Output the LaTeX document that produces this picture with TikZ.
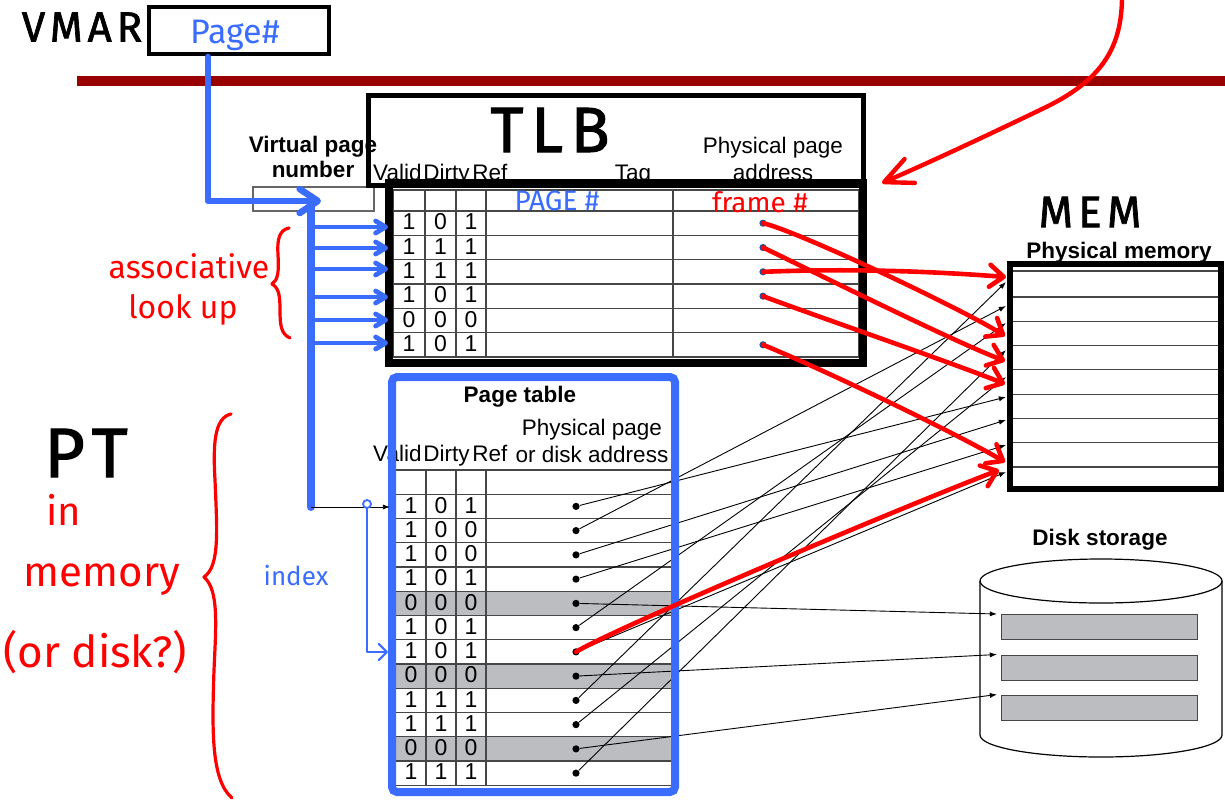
\documentclass[tikz,border=0pt]{standalone}
\usepackage{fontspec}
\setmainfont{Liberation Sans}
\newfontfamily\handfont{Fira Sans}
\newfontfamily\handcaps[LetterSpace=12,FakeBold=1.6]{Fira Sans}
\usetikzlibrary{arrows.meta,calc}

\definecolor{inkblue}{RGB}{58,108,255}
\definecolor{inkred}{RGB}{255,0,0}
\definecolor{barred}{RGB}{153,0,0}
\definecolor{cellgray}{RGB}{188,189,192}
\definecolor{dotblue}{RGB}{30,80,160}
\definecolor{gridgray}{RGB}{70,70,70}

\tikzset{
  lbl/.style={inner sep=0pt, anchor=base, font=\fontsize{11.25}{13}\selectfont},
  lblb/.style={inner sep=0pt, anchor=base, font=\fontsize{11.25}{13}\selectfont\bfseries},
  digit/.style={inner sep=0pt, anchor=base, font=\fontsize{11.5}{13}\selectfont},
  gridline/.style={draw=gridgray, line width=0.55pt},
  link/.style={draw=black, line width=0.45pt, -{Latex[length=3.6pt,width=2.6pt]}},
  redlink/.style={draw=inkred, line width=2.3pt, line cap=round, line join=round,
    -{Straight Barb[length=7pt,width=11pt,round]}},
  bluebranch/.style={draw=inkblue, line width=2.4pt, line cap=round,
    -{Straight Barb[length=5pt,width=6pt,round]}},
  handblack/.style={inner sep=0pt, text=black, font=\handcaps\fontsize{#1}{#1}\selectfont},
  handblue/.style={inner sep=0pt, text=inkblue, font=\handfont\fontsize{#1}{#1}\selectfont},
  handred/.style={inner sep=0pt, text=inkred, font=\handfont\fontsize{#1}{#1}\selectfont},
  bracestroke/.style={draw=inkred, line width=1.6pt, line cap=round, line join=round},
  pdot/.style={circle, fill=black, inner sep=0pt, minimum size=3.6pt},
  tdot/.style={circle, fill=dotblue, inner sep=0pt, minimum size=3.6pt},
  slot/.style={draw=gridgray, fill=cellgray, line width=0.6pt, inner sep=0pt,
    minimum width=98pt, minimum height=12.5pt, anchor=north west},
}

\begin{document}
\begin{tikzpicture}[x=0.5pt, y=-0.5pt]
\useasboundingbox (0,0) rectangle (1225,803);

% slide title rule
\fill[barred] (77,76) rectangle (1225,86);

% ---- virtual memory address register ----
\node[handblack=21] (vmar) at (82,27) {VMAR};
\node[draw, line width=2.2pt, minimum width=90pt, minimum height=23.5pt, inner sep=0pt] (vmarbox) at (239,30.5) {};
\node[handblue=17] (pagehash) at (235,35) {Page\#};

% ---- virtual page number ----
\node[lblb] (vpnA) at (313,152) {Virtual page};
\node[lblb] (vpnB) at (313,177) {number};
\node[draw=gray!80!black, line width=0.6pt, minimum width=60.5pt, minimum height=12pt, inner sep=0pt] (vpn) at (313.5,199) {};

% ---- TLB ----
\node[lbl] (tphA) at (773,153) {Physical page};
\node[lbl] (tphB) at (773,180) {address};
\node[lbl] (ttag) at (633,180) {Tag};
\node[lbl, anchor=base east] (tvalid) at (422,180) {Valid};
\node[lbl, anchor=base west] (tdirty) at (423,180) {Dirty};
\node[lbl, anchor=base west] (tref) at (472,180) {Ref};

\foreach \y in {190,211,235.33,259.67,284,308.33,332.67,357}
  \draw[gridline] (393,\y) -- (859,\y);
\foreach \x in {393,425,456,486,673,859}
  \draw[gridline] (\x,190) -- (\x,357);
\foreach \r/\a/\b/\c in {1/1/0/1,2/1/1/1,3/1/1/1,4/1/0/1,5/0/0/0,6/1/0/1}{
  \pgfmathsetmacro\yb{211+24.33*\r-5.5}
  \node[digit] (t\r-v) at (409,\yb) {\a};
  \node[digit] (t\r-d) at (440.5,\yb) {\b};
  \node[digit] (t\r-r) at (471,\yb) {\c};
}
\node[draw, line width=2.5pt, minimum width=247.5pt, minimum height=45pt, inner sep=0pt] (tlbhead) at (615.5,140) {};
\node[draw, line width=4.3pt, minimum width=237pt, minimum height=90pt, inner sep=0pt] (tlb) at (626,273) {};
\node[handblack=32] (tlbtitle) at (550,130) {TLB};
\node[handblue=14] (tagnote) at (557,201) {PAGE \#};
\node[handred=14] (framenote) at (760,202) {frame \#};
\foreach \r in {1,2,3,4,6}
  \node[tdot] (td\r) at (763,{211+24.33*\r-12.17}) {};

% ---- page table ----
\foreach \r in {5,8,11}
  \fill[cellgray] (396,{470+24.25*\r}) rectangle (672,{470+24.25*(\r+1)});
\foreach \k in {0,...,13}
  \draw[gridline] (396,{470+24.25*\k}) -- (672,{470+24.25*\k});
\foreach \x in {426,456,486}
  \draw[gridline] (\x,470) -- (\x,785.25);
\foreach \r/\a/\b/\c in {1/1/0/1,2/1/0/0,3/1/0/0,4/1/0/1,5/0/0/0,6/1/0/1,7/1/0/1,8/0/0/0,9/1/1/1,10/1/1/1,11/0/0/0,12/1/1/1}{
  \pgfmathsetmacro\yb{470+24.25*(\r+1)-5.5}
  \node[digit] (p\r-v) at (411,\yb) {\a};
  \node[digit] (p\r-d) at (441,\yb) {\b};
  \node[digit] (p\r-r) at (471,\yb) {\c};
  \node[pdot] (pd\r) at (576,{470+24.25*\r+12.12}) {};
}
\node[lblb] (ptitle) at (520,402) {Page table};
\node[lbl] (pphA) at (592,435) {Physical page};
\node[lbl] (pphB) at (592,462) {or disk address};
\node[lbl, anchor=base east] (pvalid) at (422,461) {Valid};
\node[lbl, anchor=base west] (pdirty) at (423,461) {Dirty};
\node[lbl, anchor=base west] (pref) at (472,461) {Ref};

% ---- physical memory ----
\node[lblb] (memlbl) at (1119,258) {Physical memory};
\node[handblack=22] (memtitle) at (1090,212) {MEM};
\foreach \y in {271,297,321.3,345.6,369.9,394.1,418.4,442.7,467}
  \draw[gridline] (1010,\y) -- (1221,\y);
\foreach \i/\y in {1/282,2/306,3/323,4/350,5/377,6/397,7/420,8/445,9/472}
  \coordinate (mt\i) at (1006,\y);

% ---- disk ----
\node[lblb] (disklbl) at (1100,545) {Disk storage};
\draw[line width=0.6pt] (980,581) -- (980,735) arc[start angle=180, end angle=360, x radius=60.5pt, y radius=11pt] -- (1222,581);
\draw[line width=0.6pt] (1101,581) ellipse [x radius=60.5pt, y radius=11pt];
\node[slot] (slot1) at (1001,614) {};
\node[slot] (slot2) at (1001,654.5) {};
\node[slot] (slot3) at (1001,694.5) {};

% ---- page table entries to frames and disk blocks ----
\foreach \r/\m in {1/6,2/2,3/7,4/8,6/3,7/9,9/1,10/5,12/4}
  \draw[link] (pd\r) -- (mt\m);
\draw[link] (pd5) -- ($(slot1.north west)+(-4,0)$);
\draw[link] (pd8) -- ($(slot2.north west)+(-4,0)$);
\draw[link] (pd11) -- ($(slot3.north west)+(-4,0)$);

\node[draw, line width=3pt, minimum width=105.5pt, minimum height=112.5pt, inner sep=0pt] (mem) at (1115.5,376.5) {};
\draw[inkblue, line width=4pt, rounded corners=2.5pt] (392,377) rectangle (675,792);

% ---- blue annotations ----
\coordinate (vstart) at (208,57);
\coordinate (vhit) at (321,201);
\draw[draw=inkblue, line width=3.3pt, line cap=round, line join=round,
  -{Straight Barb[length=9pt,width=12pt,round]}] (vstart) |- (vhit);
\coordinate (trunktop) at (311,200);
\coordinate (trunkbot) at (311,507);
\draw[inkblue, line width=4pt, line cap=round] (trunktop) -- (trunkbot);
\foreach \y in {227,248,269,297,320,343}
  \draw[bluebranch] (311,\y) -- (388,\y);
\coordinate (ptentry) at (390,507);
\draw[link] (trunkbot) -- (ptentry);
\node[circle, draw=inkblue, line width=0.9pt, inner sep=0pt, minimum size=4pt] (idxc) at (367,504) {};
\coordinate (idxhit) at (388,652);
\draw[inkblue, line width=1.1pt, line cap=round, line join=round,
  -{Straight Barb[length=4pt,width=8pt,round]}] (idxc.south) |- (idxhit);
\node[handblue=13] (idxlbl) at (296,576) {index};

% ---- red annotations ----
\coordinate (mr1) at (1006,277);
\coordinate (mr2) at (1005,336);
\coordinate (mr3) at (1005,361);
\coordinate (mr4) at (1005,384);
\coordinate (mr5) at (1005,462);
\coordinate (mr6) at (999,470);
\draw[redlink] (td3.center) .. controls (860,268) and (940,272) .. (mr1);
\draw[redlink] (td1.center) .. controls (800,232) and (964,310) .. (mr2);
\draw[redlink] (td2.center) .. controls (810,270) and (950,340) .. (mr3);
\draw[redlink] (td4.center) .. controls (810,314) and (950,362) .. (mr4);
\draw[redlink] (td6.center) .. controls (820,368) and (950,430) .. (mr5);
\draw[redlink] (pd7.center) .. controls (615,628) and (900,508) .. (mr6);

\coordinate (rtop) at (1122,-4);
\coordinate (rtip) at (882,183);
\draw[draw=inkred, line width=2.2pt, line cap=round,
  -{Straight Barb[length=14pt,width=13pt,round]}]
  (rtop) .. controls (1122,50) and (1100,82) .. (1040,110)
  .. controls (990,134) and (935,160) .. (rtip);

\draw[bracestroke] (231,414) .. controls (214,418) and (213,445) .. (215,480)
  .. controls (217,530) and (220,566) .. (204,577)
  .. controls (219,590) and (216,625) .. (214,670)
  .. controls (212,730) and (211,780) .. (232,798);
\draw[bracestroke] (289,228) .. controls (279,230) and (277,240) .. (278,255)
  .. controls (279,272) and (278,280) .. (272,284)
  .. controls (279,288) and (280,296) .. (280,310)
  .. controls (280,325) and (281,334) .. (290,338);
\node[handred=16] (assoc) at (189,266) {associative};
\node[handred=16] (lookup) at (183,310) {look up};
\node[handblack=35] (ptlabel) at (86,453) {PT};
\node[handred=20] (inmem1) at (64,510) {in};
\node[handred=21] (inmem2) at (102,580) {memory};
\node[handred=22] (inmem3) at (95,652) {(or disk?)};
\end{tikzpicture}
\end{document}
